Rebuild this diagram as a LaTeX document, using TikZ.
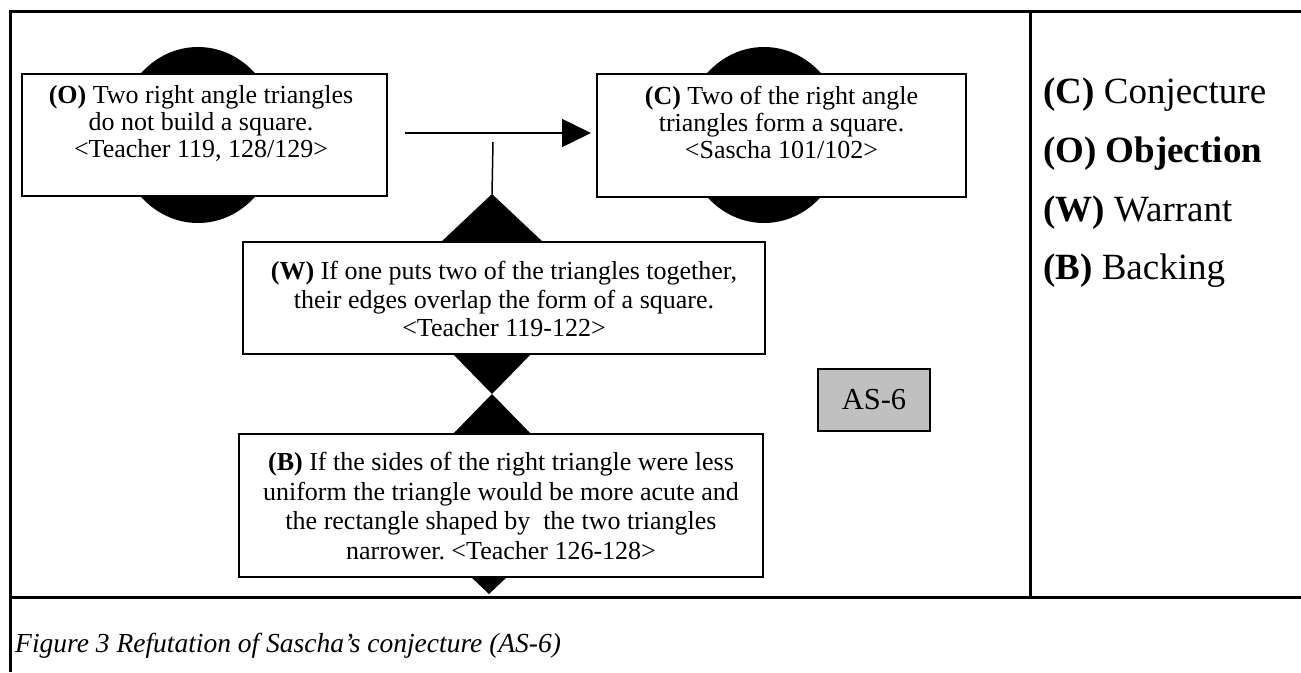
\documentclass[tikz,border=0pt]{standalone}
\usepackage{fontspec}
\setmainfont{Liberation Serif}
\usetikzlibrary{arrows.meta}
\frenchspacing
\begin{document}
\begin{tikzpicture}[x=1pt,y=-1pt,
  box/.style={draw, line width=1.3pt, fill=white, inner sep=0pt},
  txt/.style={align=center, inner sep=0pt, anchor=north, font=\fontsize{26}{28}\selectfont},
  leg/.style={anchor=base west, inner sep=0pt, font=\fontsize{37}{40}\selectfont},
  blob/.style={fill=black},
  frame/.style={line width=3pt},
  conn/.style={line width=1.5pt}]
\useasboundingbox (0,0) rectangle (1301,672);
% frame
\draw[frame] (1301,11) -- (10,11) -- (10,672);
\draw[frame] (10,597) -- (1301,597);
\draw[frame] (1030,11) -- (1030,597);
% decorations behind boxes
\fill[blob] (198,135) ellipse [x radius=80pt, y radius=88pt];
\fill[blob] (764,135) ellipse [x radius=80pt, y radius=88pt];
\coordinate (wa) at (492,194);
\fill[blob] (wa) -- (440,243) -- (544,243) -- cycle;
\coordinate (hg) at (492,394);
\fill[blob] (hg) -- (452,353) -- (532,353) -- cycle;
\fill[blob] (hg) -- (452,435) -- (532,435) -- cycle;
\coordinate (bt) at (489,594);
\fill[blob] (bt) -- (470,576) -- (508,576) -- cycle;
% boxes
\node[box, minimum width=365pt, minimum height=122pt] (O) at (204.5,135) {};
\node[box, minimum width=369pt, minimum height=123pt] (C) at (781.5,135.5) {};
\node[box, minimum width=522pt, minimum height=112pt] (W) at (504,298) {};
\node[box, minimum width=524pt, minimum height=143pt] (B) at (501,505.5) {};
\node[box, fill={rgb,255:red,192;green,192;blue,192}, minimum width=112pt, minimum height=62pt,
      font=\fontsize{30.5}{33}\selectfont] (AS) at (874,400) {AS-6};
% texts
\node[txt, font=\fontsize{26}{27}\selectfont] (Ot) at (201,85) {\textbf{(O)} Two right angle triangles\\do not build a square.\\<Teacher 119, 128/129>};
\node[txt, font=\fontsize{26}{27}\selectfont] (Ct) at (781.5,86) {\textbf{(C)} Two of the right angle\\triangles form a square.\\<Sascha 101/102>};
\node[txt, font=\fontsize{26}{28.5}\selectfont] (Wt) at (504,261) {\textbf{(W)} If one puts two of the triangles together,\\their edges overlap the form of a square.\\<Teacher 119-122>};
\node[txt, font=\fontsize{26}{29.5}\selectfont] (Bt) at (501,452) {\textbf{(B)} If the sides of the right triangle were less\\uniform the triangle would be more acute and\\the rectangle shaped by\ \ the two triangles\\narrower. <Teacher 126-128>};
% connectors
\coordinate (as) at (405,133);
\coordinate (at) at (591,133);
\draw[conn, -{Triangle[length=29pt,width=28pt]}] (as) -- (at);
\coordinate (vt) at (493,142);
\draw[conn] (vt) -- (wa);
% legend
\node[leg] (L1) at (1043,103) {\textbf{(C)} Conjecture};
\node[leg] (L2) at (1043,162) {\textbf{(O) Objection}};
\node[leg] (L3) at (1043,221) {\textbf{(W)} Warrant};
\node[leg] (L4) at (1043,279) {\textbf{(B)} Backing};
% caption
\node[anchor=base west, inner sep=0pt, font=\fontsize{27.5}{30}\selectfont\itshape] (cap) at (15,652) {Figure 3 Refutation of Sascha’s conjecture (AS-6)};
\end{tikzpicture}
\end{document}
